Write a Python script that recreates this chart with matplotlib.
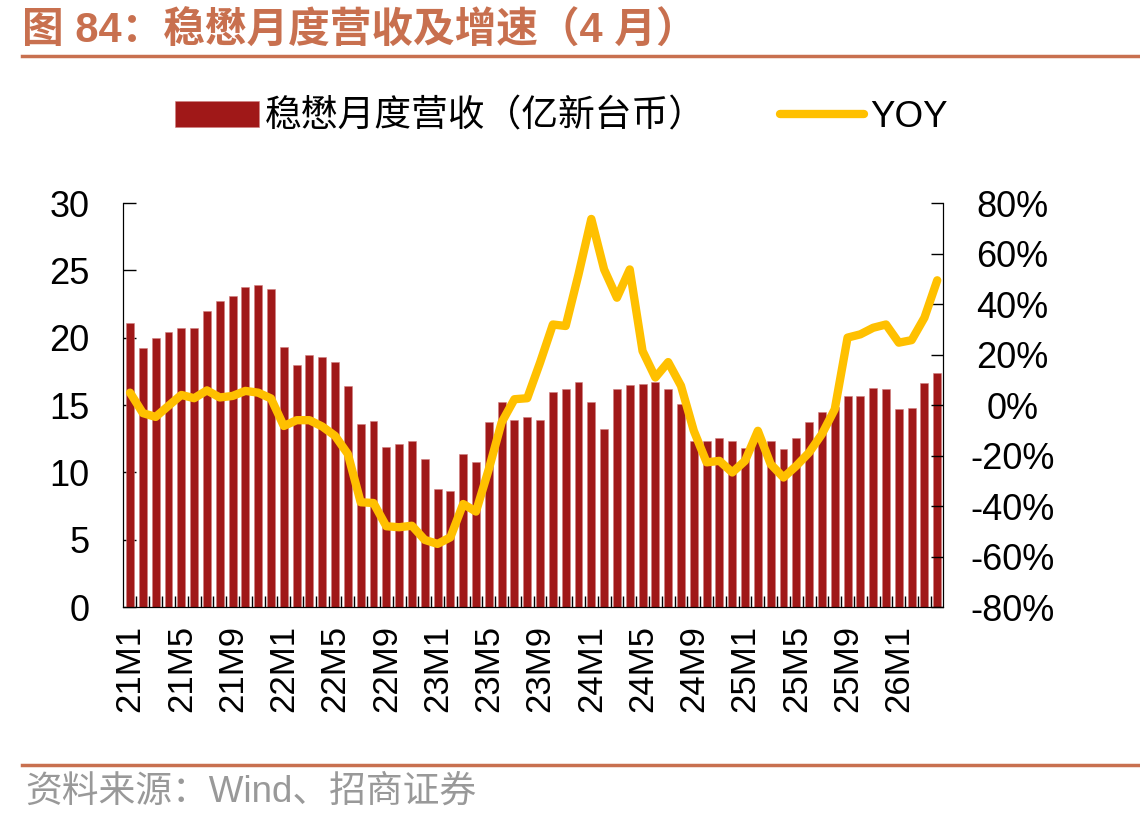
import numpy as np
import matplotlib
matplotlib.use('Agg')
import matplotlib.pyplot as plt
from matplotlib.patches import Patch
from matplotlib.lines import Line2D

plt.rcParams['font.family'] = ['Liberation Sans', 'Noto Sans CJK SC']
plt.rcParams['axes.unicode_minus'] = False

# monthly labels 21M1 .. 26M4
months = [f'{y}M{m}' for y in range(21, 27) for m in range(1, 13)][:64]

# monthly revenue (100m NTD)
revenue = [21.1, 19.2, 20.0, 20.4, 20.7, 20.7, 22.0, 22.7, 23.1, 23.8, 23.9, 23.6,
           19.3, 18.0, 18.7, 18.6, 18.2, 16.4, 13.6, 13.8, 11.9, 12.1, 12.3, 11.0,
           8.75, 8.6, 11.35, 10.8, 13.75, 15.2, 13.9, 14.1, 13.9, 16.0, 16.2, 16.7,
           15.2, 13.2, 16.2, 16.5, 16.55, 16.7, 16.2, 15.1, 12.35, 12.35, 12.55, 12.3,
           11.8, 12.3, 12.3, 11.75, 12.55, 13.75, 14.5, 14.85, 15.7, 15.7, 16.3, 16.2,
           14.7, 14.8, 16.6, 17.4]

# year-over-year growth (%)
yoy = [4.9, -3.2, -4.7, -0.3, 4.0, 2.7, 5.8, 3.0, 3.6, 5.6, 4.9, 2.6,
       -8.3, -6.0, -6.0, -8.5, -12.2, -19.4, -38.5, -38.8, -48.0, -48.4, -47.8, -53.4,
       -55.0, -52.4, -39.2, -42.2, -25.4, -6.9, 2.3, 2.7, 16.8, 31.9, 31.3, 51.7,
       73.7, 53.7, 42.5, 53.7, 21.4, 10.9, 17.0, 7.6, -10.2, -22.7, -22.1, -26.7,
       -22.1, -10.2, -23.4, -28.7, -24.1, -18.8, -11.5, -1.7, 26.7, 28.0, 30.6, 31.9,
       24.7, 25.7, 34.6, 49.4]

bar_color = '#A01818'
line_color = '#FFC000'
accent = '#C8704F'

fig = plt.figure(figsize=(11.4, 8.25), dpi=100)
ax = fig.add_axes([0.1079, 0.2642, 0.7193, 0.4897])
ax2 = ax.twinx()

x = np.arange(len(months))
ax.bar(x, revenue, width=0.62, color=bar_color, edgecolor='#D08080', linewidth=0.4, zorder=2)
ax2.plot(x, yoy, color=line_color, linewidth=6, solid_joinstyle='round',
         solid_capstyle='round', zorder=3)

ax.set_xlim(-0.55, 63.45)
ax.set_ylim(0, 30)
ax.set_yticks(range(0, 31, 5))
ax2.set_ylim(-80, 80)
ax2.set_yticks(range(-80, 81, 20))
ax2.set_yticklabels([f'{v}%' for v in range(-80, 81, 20)])

ax.set_xticks(x[::4])
ax.set_xticklabels(months[::4], rotation=90, fontsize=25)
ax.set_xticks(x[:-1] + 0.5, minor=True)
ax.tick_params(axis='x', which='major', length=0, pad=13)
ax.tick_params(axis='x', which='minor', direction='in', length=8, width=1)
ax.tick_params(axis='y', direction='in', length=9, width=1, labelsize=26, pad=24)
ax2.tick_params(axis='y', direction='in', length=9, width=1, labelsize=26, pad=50)
for lab in ax2.get_yticklabels():
    lab.set_horizontalalignment('center')

for a in (ax, ax2):
    a.spines['top'].set_visible(False)
ax2.set_zorder(ax.get_zorder() + 1)
ax2.patch.set_visible(False)

# legend
handles = [Patch(facecolor=bar_color, edgecolor='#D08080', linewidth=0.4),
           Line2D([0], [0], color=line_color, linewidth=6, solid_capstyle='round')]
fig.legend(handles, ['稳懋月度营收（亿新台币）', 'YOY'], loc='center',
           bbox_to_anchor=(0.4925, 0.858), ncol=2, frameon=False, fontsize=26.5,
           handlelength=2.28, handleheight=0.7, handletextpad=0.17, columnspacing=2.0)

# title and source
fig.text(0.019, 0.962, '图 84：稳懋月度营收及增速（4 月）', fontsize=30, fontweight='bold',
         color=accent, va='center', ha='left')
fig.add_artist(Line2D([0.019, 1.0], [0.932, 0.932], color=accent, linewidth=2.5))
fig.add_artist(Line2D([0.019, 1.0], [0.073, 0.073], color=accent, linewidth=2.5))
fig.text(0.022, 0.040, '资料来源：Wind、招商证券', fontsize=26.5, color='#999999',
         va='center', ha='left')

fig.savefig('out.png', dpi=100)
